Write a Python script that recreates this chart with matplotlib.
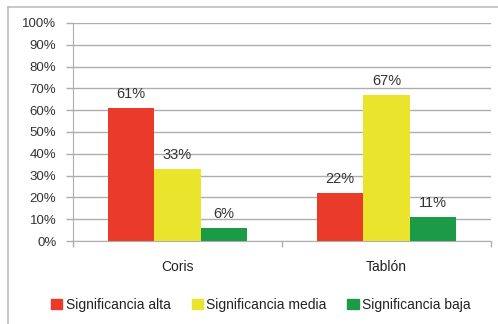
import matplotlib
matplotlib.use("Agg")
import matplotlib.pyplot as plt
from matplotlib.patches import Rectangle
from matplotlib.lines import Line2D
import numpy as np

plt.rcParams['font.family'] = ['Liberation Sans', 'DejaVu Sans']

categories = ["Coris", "Tablón"]
series_names = ["Significancia alta", "Significancia media", "Significancia baja"]
values = {
    "Significancia alta": [61, 22],
    "Significancia media": [33, 67],
    "Significancia baja": [6, 11],
}
colors = ["#EA3A2A", "#EBE42C", "#1B9B48"]
yticks = list(range(0, 101, 10))

W, H = 498, 324
fig = plt.figure(figsize=(W / 100, H / 100), dpi=100)
fig.patch.set_facecolor("white")

# outer frame (top and left edges visible)
fig.add_artist(Line2D([8 / W, 1.0], [1 - 7 / H, 1 - 7 / H], color="#BDBDBD", lw=1.2,
                      transform=fig.transFigure))
fig.add_artist(Line2D([8 / W, 8 / W], [0, 1 - 7 / H], color="#BDBDBD", lw=1.2,
                      transform=fig.transFigure))

ax_left, ax_right = 73, 491
ax_top, ax_bottom = 23, 241
ax = fig.add_axes([ax_left / W, 1 - ax_bottom / H, (ax_right - ax_left) / W, (ax_bottom - ax_top) / H])

ax.set_xlim(0, 2)
ax.set_ylim(0, 100)

bar_w = 0.223
x = np.arange(len(categories)) + 0.5
for i, name in enumerate(series_names):
    pos = x + (i - 1) * bar_w
    ax.bar(pos, values[name], width=bar_w, color=colors[i], zorder=3, linewidth=0)
    for px, v in zip(pos, values[name]):
        ax.text(px, v + 3.2, f"{v}%", ha="center", va="bottom", fontsize=10.5, color="#333333")

ax.set_yticks(yticks)
ax.set_yticklabels([f"{t}%" for t in yticks], fontsize=9.5, color="#333333")
ax.yaxis.grid(True, color="#AEAEAE", lw=1.0, zorder=0)
ax.set_xticks([0, 1, 2])
ax.set_xticklabels([])
ax.tick_params(axis="x", length=4, color="#AEAEAE", width=1)
ax.tick_params(axis="y", length=5, color="#AEAEAE", width=1, pad=7)
for c, px in zip(categories, x):
    ax.text(px, -12, c, ha="center", va="center", fontsize=10, color="#222222",
            transform=ax.transData, clip_on=False)

for s in ["top", "right"]:
    ax.spines[s].set_visible(False)
ax.spines["left"].set_color("#AEAEAE")
ax.spines["bottom"].set_color("#AEAEAE")

handles = [Rectangle((0, 0), 1, 1, color=c) for c in colors]
fig.legend(handles, series_names, loc="center", bbox_to_anchor=(261 / W, 1 - 305 / H),
           ncol=3, frameon=False, fontsize=10, handlelength=0.8, handleheight=0.8,
           handletextpad=0.25, columnspacing=1.5, labelcolor="#222222")

fig.savefig("out.png", dpi=100, facecolor="white")
